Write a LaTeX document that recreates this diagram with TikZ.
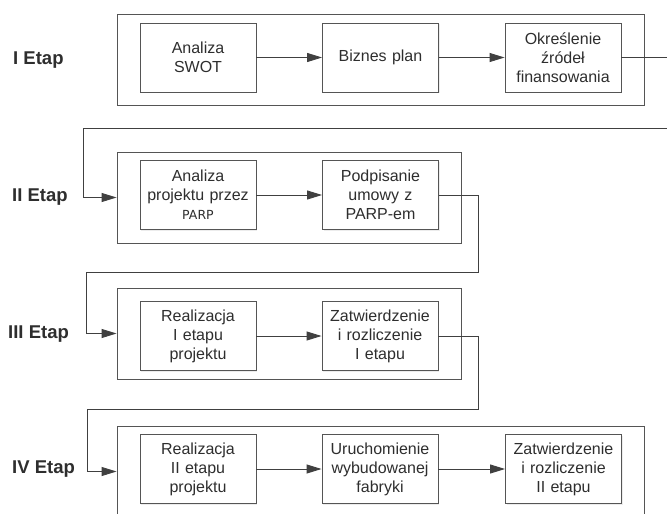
\documentclass[tikz,border=0pt]{standalone}
\usepackage{fontspec}
\setmainfont{Liberation Sans}
\newfontfamily\dejavu{DejaVu Sans}
\usetikzlibrary{arrows.meta,shadows}
\definecolor{linec}{HTML}{404040}
\definecolor{boxc}{HTML}{555555}
\definecolor{txtc}{HTML}{2E2E2E}
\begin{document}
\begin{tikzpicture}[x=1pt,y=-1pt,
  frame/.style={draw=boxc, line width=0.9pt, fill=white, inner sep=0pt,
    drop shadow={opacity=0.15, shadow xshift=1pt, shadow yshift=-1pt}},
  stepbox/.style={draw=boxc, line width=0.9pt, fill=white, inner sep=0pt,
    minimum width=116pt, minimum height=69pt, text width=112pt, align=center,
    text=txtc, font=\fontsize{16}{19}\selectfont,
    drop shadow={opacity=0.15, shadow xshift=1pt, shadow yshift=-1pt}},
  etap/.style={anchor=west, inner sep=0pt, text=txtc, font=\fontsize{18.5}{22}\selectfont\bfseries},
  conn/.style={draw=linec, line width=0.9pt},
  arr/.style={conn, -{Triangle[length=15pt,width=9pt]}},
]
\useasboundingbox (0,0) rectangle (667,514);
\clip (0,0) rectangle (667,514);
\fill[white] (0,0) rectangle (667,514);

% outer frames
\node[frame, minimum width=527pt, minimum height=91pt] (st1) at (380.5,59.5) {};
\node[frame, minimum width=344pt, minimum height=91pt] (st2) at (289,197.5) {};
\node[frame, minimum width=344pt, minimum height=91pt] (st3) at (289,333.5) {};
\node[frame, minimum width=527pt, minimum height=91pt] (st4) at (380.5,471.5) {};

% stage labels
\node[etap] (e1) at (13,60) {I Etap};
\node[etap] (e2) at (12,197) {II Etap};
\node[etap] (e3) at (8,334) {III Etap};
\node[etap] (e4) at (12,469) {IV Etap};

% row 1
\node[stepbox] (swot) at (198,57.5) {Analiza\\SWOT};
\node[stepbox] (biz) at (380.5,57.5) {Biznes plan};
\node[stepbox] (okr) at (563,57.5) {Określenie\\źródeł\\finansowania};
% row 2
\node[stepbox] (anp) at (198,195) {Analiza\\projektu przez\\{\dejavu\fontsize{12.5}{19}\selectfont PARP}};
\node[stepbox] (pod) at (380.5,195) {Podpisanie\\umowy z\\PARP-em};
% row 3
\node[stepbox] (rea1) at (198,336) {Realizacja\\I etapu\\projektu};
\node[stepbox] (zat1) at (380,336) {Zatwierdzenie\\i rozliczenie\\I etapu};
% row 4
\node[stepbox] (rea2) at (198,469) {Realizacja\\II etapu\\projektu};
\node[stepbox] (uru) at (380,469) {Uruchomienie\\wybudowanej\\fabryki};
\node[stepbox] (zat2) at (563.5,469) {Zatwierdzenie\\i rozliczenie\\II etapu};

% arrows inside stages
\draw[arr] (swot) -- (biz);
\draw[arr] (biz) -- (okr);
\draw[arr] (anp) -- (pod);
\draw[arr] (rea1) -- (zat1);
\draw[arr] (rea2) -- (uru);
\draw[arr] (uru) -- (zat2);

% connectors between stages
\coordinate (r1) at (667,57.5);
\draw[conn] (okr.east) -- (r1);
\coordinate (l1a) at (667,128);
\coordinate (l1b) at (83,128);
\draw[arr] (l1a) -- (l1b) |- (st2.west);

\coordinate (c2) at (478,272);
\coordinate (c2b) at (86,272);
\draw[arr] (pod.east) -| (c2) -- (c2b) |- (st3.west);

\coordinate (c3) at (478,409);
\coordinate (c3b) at (87,409);
\draw[arr] (zat1.east) -| (c3) -- (c3b) |- (st4.west);
\end{tikzpicture}
\end{document}
